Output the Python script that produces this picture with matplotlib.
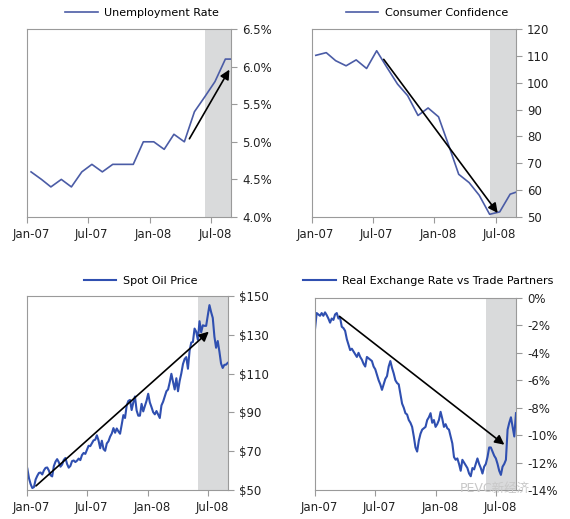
import matplotlib
matplotlib.use("Agg")
import matplotlib.pyplot as plt
import matplotlib.transforms as mtransforms
import pandas as pd

plt.rcParams['font.family'] = ['DejaVu Sans', 'Noto Sans CJK SC']

# monthly series, Jan-07 .. Sep-08
months = pd.date_range('2007-01-01', periods=21, freq='MS') + pd.Timedelta(days=12)
unemployment = [4.6, 4.5, 4.4, 4.5, 4.4, 4.6, 4.7, 4.6, 4.7, 4.7, 4.7, 5.0,
                5.0, 4.9, 5.1, 5.0, 5.4, 5.6, 5.8, 6.1, 6.1]
confidence = [110.2, 111.2, 108.2, 106.3, 108.5, 105.3, 111.9, 105.6, 99.5, 95.2, 87.8, 90.6,
              87.3, 76.4, 65.9, 62.8, 58.1, 51.0, 51.9, 58.5, 59.8]

# spot oil, every 5 days from 2 Jan 2007
oil = [61.0, 56.0, 53.0, 51.0, 51.5, 55.4, 57.3, 58.8, 59.0, 58.0, 60.1, 61.4,
       61.6, 60.0, 57.6, 57.0, 62.3, 64.6, 65.9, 64.3, 62.0, 63.1, 65.5, 66.5,
       63.4, 61.5, 62.4, 64.9, 65.2, 64.4, 65.1, 66.2, 65.4, 68.0, 69.1, 68.6,
       70.7, 72.8, 72.6, 74.1, 75.6, 75.9, 78.2, 75.5, 71.5, 75.4, 71.1, 70.2,
       74.0, 75.1, 77.5, 79.1, 81.9, 79.5, 81.7, 80.2, 79.0, 83.7, 88.6, 87.1,
       93.5, 95.9, 96.4, 91.2, 95.1, 98.2, 91.0, 88.3, 88.3, 94.4, 90.5, 93.3,
       96.0, 99.6, 95.1, 92.7, 90.1, 89.0, 90.7, 88.9, 87.1, 93.6, 95.5, 98.2,
       100.9, 101.8, 105.5, 109.9, 105.7, 101.8, 107.6, 100.9, 106.2, 110.1, 114.9, 117.5,
       118.5, 112.5, 121.8, 126.0, 126.3, 133.2, 131.6, 127.4, 137.0, 131.3, 134.9, 134.6,
       134.6, 140.0, 145.3, 141.7, 138.7, 129.0, 123.3, 126.8, 121.4, 115.2, 112.9, 114.5,
       114.6, 115.5]
oil_dates = pd.date_range('2007-01-02', periods=len(oil), freq='5D')

# real exchange rate vs trade partners (%), Jan-07 .. end Aug-08
fx = [-2.3, -1.1, -1.2, -1.3, -1.1, -1.3, -1.05, -1.25, -1.5, -1.8, -1.5, -1.6,
      -1.2, -1.1, -1.5, -1.45, -2.1, -2.2, -2.4, -3.0, -3.4, -3.8, -3.7, -3.9,
      -4.1, -4.3, -4.0, -4.3, -4.5, -4.8, -5.0, -4.3, -4.4, -4.5, -4.6, -5.0,
      -5.2, -5.6, -6.0, -6.3, -6.7, -6.3, -5.9, -5.7, -5.0, -4.6, -5.1, -5.5,
      -6.0, -6.2, -6.3, -7.0, -7.7, -8.0, -8.4, -8.5, -8.9, -9.1, -9.4, -10.1,
      -10.9, -11.2, -10.4, -9.9, -9.6, -9.5, -9.4, -8.9, -8.7, -8.4, -9.1, -8.9,
      -9.4, -9.2, -8.9, -8.3, -8.8, -9.4, -9.2, -9.5, -9.6, -10.1, -10.6, -11.6,
      -11.8, -11.7, -12.1, -12.6, -11.8, -12.0, -12.2, -12.4, -12.8, -13.0, -12.4, -12.5,
      -12.1, -11.7, -12.1, -12.4, -12.8, -12.3, -12.1, -11.6, -10.9, -10.9, -11.2, -11.5,
      -11.7, -12.1, -12.6, -12.9, -12.3, -12.1, -11.8, -9.6, -9.1, -8.7, -9.4, -10.1,
      -8.4]
fx_dates = pd.date_range('2007-01-01', '2008-08-30', periods=len(fx))

x_ticks = pd.to_datetime(['2007-01-01', '2007-07-01', '2008-01-01', '2008-07-01'])
x_labels = ['Jan-07', 'Jul-07', 'Jan-08', 'Jul-08']
x_lim = (pd.Timestamp('2007-01-01'), pd.Timestamp('2008-08-30'))

frame_col = '#9a9a9a'
shade_col = '#d9dadb'

fig = plt.figure(figsize=(5.7, 5.19), dpi=100)
shift = mtransforms.ScaledTranslation(4 / 100, 0, fig.dpi_scale_trans)


def setup(ax, yticks, ylabels, ylim, shade_start, label, line, leg_y):
    ax.set_xlim(*x_lim)
    ax.set_ylim(*ylim)
    ax.axvspan(pd.Timestamp(shade_start), x_lim[1], color=shade_col, lw=0, zorder=0)
    ax.set_xticks(x_ticks)
    ax.set_xticklabels(x_labels)
    ax.set_yticks(yticks)
    ax.set_yticklabels(ylabels)
    ax.yaxis.tick_right()
    ax.tick_params(axis='both', direction='out', length=4, width=0.8, color=frame_col,
                   labelsize=8.5, labelcolor='#222222', pad=4)
    for t in ax.get_xticklabels():
        t.set_transform(t.get_transform() + shift)
    for s in ax.spines.values():
        s.set_color(frame_col)
        s.set_linewidth(0.8)
    ax.legend([line], [label], loc='center', bbox_to_anchor=(0.565, leg_y), frameon=False,
              fontsize=8, handlelength=2.9, handletextpad=0.6, borderpad=0)


def arrow(ax, start, end):
    ax.annotate('', xy=end, xytext=start,
                arrowprops=dict(arrowstyle='-|>', color='black', lw=1.2,
                                mutation_scale=14, shrinkA=0, shrinkB=0))


# top left
ax1 = fig.add_axes([0.0474, 0.5819, 0.358, 0.3622])
l1, = ax1.plot(months, unemployment, color='#4b5ca6', lw=1.2)
setup(ax1, [4.0, 4.5, 5.0, 5.5, 6.0, 6.5], ['4.0%', '4.5%', '5.0%', '5.5%', '6.0%', '6.5%'],
      (4.0, 6.5), '2008-06-14', 'Unemployment Rate', l1, 1.085)
arrow(ax1, (pd.Timestamp('2008-04-28'), 5.04), (pd.Timestamp('2008-08-25'), 5.96))

# top right
ax2 = fig.add_axes([0.547, 0.5819, 0.358, 0.3622])
l2, = ax2.plot(months, confidence, color='#4b5ca6', lw=1.2)
setup(ax2, list(range(50, 121, 10)), [str(v) for v in range(50, 121, 10)],
      (50, 120), '2008-06-14', 'Consumer Confidence', l2, 1.085)
arrow(ax2, (pd.Timestamp('2007-08-03'), 108.7), (pd.Timestamp('2008-07-07'), 51.5))

# bottom left
ax3 = fig.add_axes([0.0474, 0.0559, 0.3526, 0.3738])
l3, = ax3.plot(oil_dates, oil, color='#2f4fb0', lw=1.5)
setup(ax3, list(range(50, 151, 20)), ['$%d' % v for v in range(50, 151, 20)],
      (50, 150), '2008-06-01', 'Spot Oil Price', l3, 1.077)
arrow(ax3, (pd.Timestamp('2007-01-28'), 52.1), (pd.Timestamp('2008-07-03'), 131.6))

# bottom right
ax4 = fig.add_axes([0.5526, 0.0559, 0.3526, 0.37])
l4, = ax4.plot(fx_dates, fx, color='#2f4fb0', lw=1.5)
setup(ax4, list(range(-14, 1, 2)), ['%d%%' % v for v in range(-14, 1, 2)],
      (-14, 0), '2008-06-01', 'Real Exchange Rate vs Trade Partners', l4, 1.089)
arrow(ax4, (pd.Timestamp('2007-03-16'), -1.34), (pd.Timestamp('2008-07-26'), -10.7))

fig.text(0.93, 0.058, 'PEVC新经济', fontsize=9, color='#c8c8c8', ha='right', va='center',
         family=['DejaVu Sans', 'Noto Sans CJK SC'])

fig.savefig('out.png', dpi=100)
